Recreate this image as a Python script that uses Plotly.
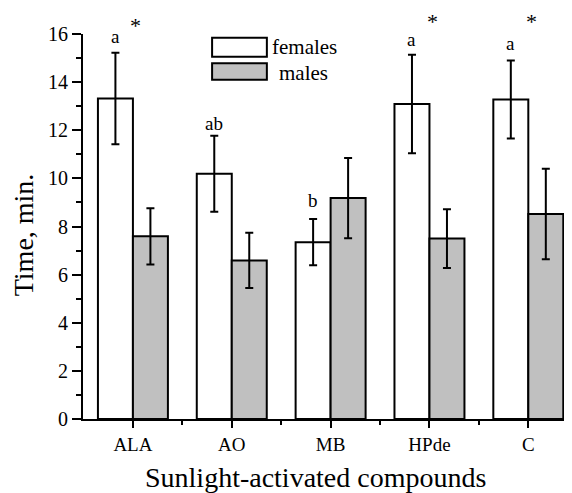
import plotly.graph_objects as go

compounds = ["ALA", "AO", "MB", "HPde", "C"]
females = [13.32, 10.19, 7.35, 13.09, 13.28]
females_err = [1.9, 1.58, 0.96, 2.05, 1.62]
males = [7.59, 6.59, 9.18, 7.5, 8.52]
males_err = [1.17, 1.15, 1.67, 1.22, 1.88]

letters = ["a", "ab", "b", "a", "a"]
letter_y = [15.9, 12.27, 9.08, 15.76, 15.59]
star_idx = [0, 3, 4]
star_y = [16.35, 16.5, 16.5]

xpos = list(range(len(compounds)))
W = 0.354
YMAX = 16
FONT = "Liberation Serif, Times New Roman, serif"

fig = go.Figure()
fig.add_trace(go.Bar(
    x=xpos, y=females, width=W, offset=-W, name="females",
    marker=dict(color="white", line=dict(color="black", width=2)),
    error_y=dict(type="data", array=females_err, color="black", thickness=2, width=4),
    showlegend=False,
))
fig.add_trace(go.Bar(
    x=xpos, y=males, width=W, offset=0, name="males",
    marker=dict(color="#c0c0c0", line=dict(color="black", width=2)),
    error_y=dict(type="data", array=males_err, color="black", thickness=2, width=4),
    showlegend=False,
))

annotations = []
for i, (t, yy) in enumerate(zip(letters, letter_y)):
    annotations.append(dict(x=i - W / 2, y=yy, xref="x", yref="y", text=t, showarrow=False,
                            font=dict(family=FONT, size=19, color="black"), yanchor="middle"))
for i, yy in zip(star_idx, star_y):
    annotations.append(dict(x=i + 0.03, y=yy / YMAX, xref="x", yref="paper", text="*", showarrow=False,
                            font=dict(family=FONT, size=22, color="black"), yanchor="middle"))

# legend drawn manually
annotations.append(dict(x=0.382, y=0.966, xref="paper", yref="paper", text="females", showarrow=False,
                        xanchor="left", yanchor="middle", font=dict(family=FONT, size=21, color="black")))
annotations.append(dict(x=0.396, y=0.900, xref="paper", yref="paper", text="males", showarrow=False,
                        xanchor="left", yanchor="middle", font=dict(family=FONT, size=21, color="black")))
shapes = [
    dict(type="rect", xref="paper", yref="paper", x0=0.264, x1=0.376, y0=0.941, y1=0.990,
         fillcolor="white", line=dict(color="black", width=2)),
    dict(type="rect", xref="paper", yref="paper", x0=0.264, x1=0.376, y0=0.881, y1=0.924,
         fillcolor="#c0c0c0", line=dict(color="black", width=2)),
]

# axis titles
annotations.append(dict(x=0.476, y=-0.152, xref="paper", yref="paper", text="Sunlight-activated compounds",
                        showarrow=False, xanchor="center", yanchor="middle",
                        font=dict(family=FONT, size=28, color="black")))
annotations.append(dict(x=-0.12, y=0.478, xref="paper", yref="paper", text="Time, min.", textangle=-90,
                        showarrow=False, xanchor="center", yanchor="middle",
                        font=dict(family=FONT, size=28, color="black")))

# page body has an 8px default margin, so the figure is 8px smaller and margins shifted
fig.update_layout(
    width=564, height=485,
    margin=dict(l=75, r=0, t=26, b=74),
    paper_bgcolor="white", plot_bgcolor="white",
    font=dict(family=FONT, color="black"),
    annotations=annotations, shapes=shapes,
    barmode="overlay",
)
fig.update_xaxes(
    range=[-0.505, 4.442], tickvals=xpos, ticktext=compounds, automargin=False,
    showline=True, linecolor="black", linewidth=2, showgrid=False, zeroline=False,
    ticks="outside", ticklen=7, tickwidth=2, tickcolor="black",
    minor=dict(tickvals=[0.5, 1.5, 2.5, 3.5], ticks="outside", ticklen=4, tickwidth=2, tickcolor="black"),
    tickfont=dict(family=FONT, size=19),
)
fig.update_yaxes(
    range=[0, YMAX], tickvals=[0, 2, 4, 6, 8, 10, 12, 14, 16], automargin=False,
    showline=True, linecolor="black", linewidth=2, showgrid=False, zeroline=False,
    ticks="outside", ticklen=9, tickwidth=2, tickcolor="black",
    minor=dict(tickvals=[1, 3, 5, 7, 9, 11, 13, 15], ticks="outside", ticklen=5, tickwidth=2, tickcolor="black"),
    tickfont=dict(family=FONT, size=20),
)

fig.write_html("out.html")
